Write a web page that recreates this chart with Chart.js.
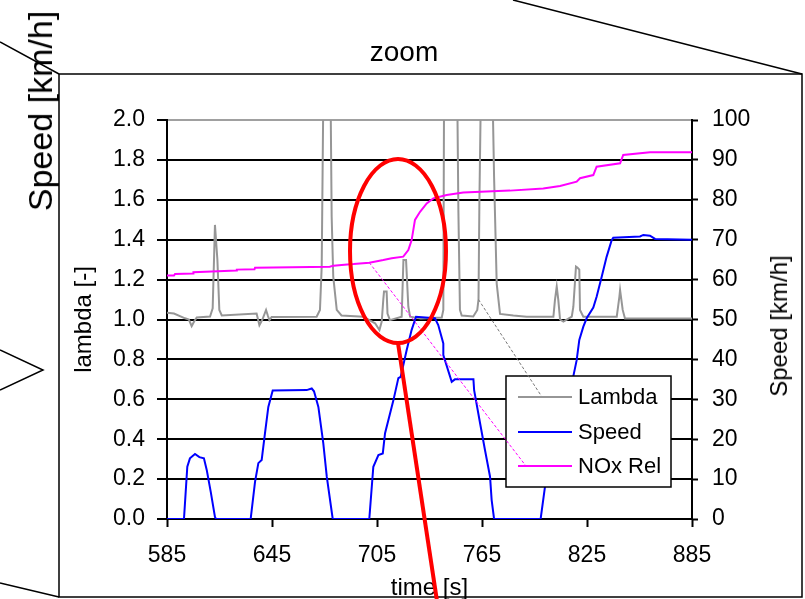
<!DOCTYPE html>
<html>
<head>
<meta charset="utf-8">
<script src="https://cdn.jsdelivr.net/npm/chart.js@4.4.1/dist/chart.umd.min.js"></script>
<style>
  body { margin: 0; background: #fff; }
  #wrap { position: relative; width: 805px; height: 599px; overflow: hidden; font-family: "Liberation Sans", Arial, sans-serif; }
  #wrap canvas { position: absolute; left: 0; top: 0; }
  .lbl { position: absolute; white-space: nowrap; color: #000; line-height: 1; }
</style>
</head>
<body>
<div id="wrap">
  <canvas id="chart" width="805" height="599"></canvas>
  <div class="lbl" style="left:404px; top:52px; font-size:28px; transform: translate(-50%,-50%);">zoom</div>
  <div class="lbl" style="left:40px; top:111px; font-size:34px; transform: translate(-50%,-50%) rotate(-90deg);">Speed [km/h]</div>
  <div class="lbl" style="left:779px; top:326px; font-size:24px; transform: translate(-50%,-50%) rotate(-90deg);">Speed [km/h]</div>
</div>
<script>
// time axis ticks [s]
const timeTicks = [585, 645, 705, 765, 825, 885]

// Lambda [-] (values above 2.0 run off the top of the plot)
const lambdaTime = [585, 589, 595.3, 597.5, 599.1, 600.5, 602, 609.6, 611.1, 612.4, 613.8, 614.9, 616.3,
  636.2, 637.8, 639.5, 641.6, 642.6, 643.5, 644.8, 670.5, 672.4, 673.4, 674.3, 678.5, 679.1, 680, 682, 684.7,
  697.2, 703.9, 706.4, 707.7, 708.6, 709, 710.5, 711, 712.4, 719.1, 720.1, 721.6, 722.9, 723.9, 730, 742, 742.9,
  743.3, 750.9, 751.5, 752.4, 753.4, 760, 762.3, 763, 763.5, 764.3, 771.1, 771.9, 773.4, 775.3, 782.9, 790.5,
  805.8, 806.7, 807.7, 808.6, 809.6, 811.5, 816.3, 817.2, 818.7, 819.5, 820.6, 821, 822.9, 842, 843.5, 843.9,
  845.4, 846.7, 885]
const lambdaVal = [1.034, 1.03, 1.006, 1.0, 0.967, 0.99, 1.01, 1.015, 1.056, 1.474, 1.298, 1.048, 1.02,
  1.03, 0.972, 1.0, 1.048, 1.02, 0.997, 1.012, 1.014, 1.048, 1.265, 2.1, 2.1, 1.515, 1.215, 1.048, 1.02,
  1.014, 0.981, 0.947, 0.99, 1.1, 1.14, 1.14, 1.03, 0.997, 1.014, 1.298, 1.298, 1.064, 1.014, 1.005, 1.01, 1.048,
  2.1, 2.1, 1.549, 1.048, 1.02, 1.015, 1.048, 1.1, 1.58, 2.1, 2.1, 1.716, 1.18, 1.028, 1.02, 1.014,
  1.014, 1.098, 1.165, 1.098, 1.0, 0.99, 1.014, 1.064, 1.265, 1.26, 1.25, 1.048, 1.014, 1.014, 1.114, 1.148,
  1.048, 1.005, 1.005]

// Speed [km/h]
const speedTime = [585, 594.7, 596.6, 598.1, 601, 603.5, 606.1, 607.7, 610, 612.4, 613, 632.8, 635.3, 637.2,
  639.1, 641, 642.9, 645.4, 664.8, 667.7, 669, 671.5, 674.3, 676.3, 679.7, 700.6, 702.9, 705.8, 708.3, 709.6,
  714.4, 717.2, 718.5, 722, 724.8, 727.3, 738.1, 740, 742.9, 742.9, 747.7, 749.5, 755.3, 760.1, 760.5, 763.9,
  766.7, 769.6, 770.5, 771.9, 798.5, 801, 806, 812, 817.2, 819.1, 820.6, 822.9, 824.8, 828.6, 830.5, 833.4,
  836.2, 839.1, 840, 855.3, 857.2, 861, 863.9, 885]
const speedVal = [0, 0, 13.1, 15.2, 16.3, 15.5, 15.2, 12.3, 6.8, 0.5, 0, 0, 9.3, 14,
  14.8, 21.5, 28.1, 32.2, 32.3, 32.7, 32, 28.1, 19, 10.6, 0, 0, 13.1, 16, 16.4, 21.5,
  29.8, 35.3, 35.6, 42.4, 47.4, 50.7, 50.3, 48.6, 44, 41.1, 34.4, 35, 35, 35, 32.3, 24,
  17.3, 10.6, 4.8, 0, 0, 8.1, 16, 26, 35.8, 39.8, 44.9, 48.2, 50.3, 53, 55.7, 60.7,
  65.7, 69.9, 70.5, 70.8, 71.2, 71, 70.2, 70]

// NOx Rel (plotted on the lambda axis)
const noxTime = [585, 589, 589.6, 600, 600.1, 624.8, 624.9, 635, 635.3, 678, 680.1, 689.6, 691.6, 700.6,
  708.6, 713.4, 720, 722.9, 724.8, 726.7, 729.6, 733.4, 737.2, 744.8, 754.3, 781, 800, 809.6, 819.1,
  821, 828.6, 830.5, 843.9, 845.7, 861, 885]
const noxVal = [1.22, 1.22, 1.228, 1.23, 1.237, 1.245, 1.25, 1.252, 1.26, 1.265, 1.27, 1.277, 1.278, 1.285,
  1.298, 1.307, 1.315, 1.348, 1.398, 1.499, 1.54, 1.582, 1.607, 1.624, 1.636, 1.646, 1.657, 1.669, 1.691,
  1.708, 1.724, 1.766, 1.783, 1.825, 1.838, 1.838]

const seriesNames = ['Lambda', 'Speed', 'NOx Rel']
const seriesColors = ['rgb(150,150,150)', 'rgb(0,0,255)', 'rgb(255,0,255)']

// annotation anchors (time, lambda)
const leaderLambda = [763, 1.1]
const leaderNox = [700.6, 1.285]
const highlight = [717, 1.343]

function pts(t, v) {
  return t.map((x, i) => ({ x: x, y: v[i] }))
}

Chart.defaults.font.family = '"Liberation Sans", Arial, sans-serif'
Chart.defaults.color = '#000'

// frame / perspective lines around the zoomed plot
const framePlugin = {
  id: 'frame',
  beforeDraw(chart) {
    const c = chart.ctx
    c.save()
    c.strokeStyle = '#000'
    c.lineWidth = 1.5
    c.strokeRect(59, 74, 743, 523)
    c.beginPath()
    c.moveTo(0, 42); c.lineTo(59, 74)
    c.moveTo(513, 0); c.lineTo(802, 74)
    c.moveTo(0, 583); c.lineTo(59, 597)
    c.moveTo(0, 350); c.lineTo(43, 370); c.lineTo(0, 390)
    c.stroke()
    c.restore()
  }
}

// legend box, leader lines and the red highlight
const overlayPlugin = {
  id: 'overlay',
  afterDatasetsDraw(chart) {
    const c = chart.ctx
    const ca = chart.chartArea
    const xs = chart.scales.x
    const ys = chart.scales.y
    const bx = ca.left + 339, by = ca.top + 256, bw = 165, bh = 111
    const rows = [by + 21, by + 56, by + 90]

    c.save()
    c.fillStyle = '#fff'
    c.fillRect(bx, by, bw, bh)
    c.strokeStyle = '#000'
    c.lineWidth = 1.5
    c.strokeRect(bx, by, bw, bh)

    // leaders
    c.lineWidth = 1
    c.setLineDash([3, 2])
    c.strokeStyle = '#777'
    c.beginPath()
    c.moveTo(xs.getPixelForValue(leaderLambda[0]), ys.getPixelForValue(leaderLambda[1]))
    c.lineTo(bx + 36, rows[0])
    c.stroke()
    c.strokeStyle = seriesColors[2]
    c.beginPath()
    c.moveTo(xs.getPixelForValue(leaderNox[0]), ys.getPixelForValue(leaderNox[1]))
    c.lineTo(bx + 20, rows[2])
    c.stroke()
    c.setLineDash([])

    c.font = '22px "Liberation Sans", Arial, sans-serif'
    c.textBaseline = 'middle'
    c.fillStyle = '#000'
    seriesNames.forEach((name, i) => {
      c.strokeStyle = seriesColors[i]
      c.lineWidth = 2
      c.beginPath()
      c.moveTo(bx + 12, rows[i])
      c.lineTo(bx + 66, rows[i])
      c.stroke()
      c.fillText(name, bx + 72, rows[i] + 1)
    })

    // red ellipse + pointer
    const cx = xs.getPixelForValue(highlight[0])
    const cy = ys.getPixelForValue(highlight[1])
    c.strokeStyle = 'rgb(255,0,0)'
    c.lineWidth = 4
    c.beginPath()
    c.ellipse(cx, cy, 48, 92, 0, 0, Math.PI * 2)
    c.stroke()
    c.beginPath()
    c.moveTo(cx, cy + 92)
    c.lineTo(cx + 39, chart.height + 2)
    c.stroke()
    c.restore()
  }
}

const config = {
  type: 'line',
  data: {
    datasets: [
      {
        label: seriesNames[0],
        data: pts(lambdaTime, lambdaVal),
        borderColor: seriesColors[0],
        yAxisID: 'y',
        order: 3
      },
      {
        label: seriesNames[1],
        data: pts(speedTime, speedVal),
        borderColor: seriesColors[1],
        yAxisID: 'y2',
        order: 2
      },
      {
        label: seriesNames[2],
        data: pts(noxTime, noxVal),
        borderColor: seriesColors[2],
        yAxisID: 'y',
        order: 1
      }
    ]
  },
  options: {
    responsive: false,
    animation: false,
    layout: { padding: { left: 66, top: 120, right: 0, bottom: 0 } },
    elements: {
      point: { radius: 0 },
      line: { borderWidth: 2, tension: 0 }
    },
    plugins: {
      legend: { display: false },
      tooltip: { enabled: false }
    },
    scales: {
      x: {
        type: 'linear',
        min: 585,
        max: 885,
        afterBuildTicks: (scale) => { scale.ticks = timeTicks.map(v => ({ value: v })) },
        afterFit: (scale) => { scale.height = 80 },
        ticks: { font: { size: 23 }, padding: 15, maxRotation: 0, autoSkip: false },
        grid: { drawOnChartArea: false, drawTicks: true, tickLength: 8, tickColor: '#000', tickWidth: 2 },
        border: { color: '#000', width: 2 },
        title: { display: true, text: 'time [s]', font: { size: 24, lineHeight: 0.9 }, padding: { top: 0, bottom: 0 } }
      },
      y: {
        position: 'left',
        min: 0,
        max: 2,
        afterFit: (scale) => { scale.width = 101 },
        ticks: { stepSize: 0.2, font: { size: 23 }, padding: 12, callback: v => v.toFixed(1) },
        grid: {
          color: ctx => (ctx.tick && Math.abs(ctx.tick.value - 2) < 1e-6) ? 'rgb(160,160,160)' : '#000',
          lineWidth: 2,
          tickLength: 10,
          tickColor: '#000',
          tickWidth: 2
        },
        border: { color: '#000', width: 2 },
        title: { display: true, text: 'lambda [-]', font: { size: 24 }, padding: { top: 4, bottom: 4 } }
      },
      y2: {
        position: 'right',
        min: 0,
        max: 100,
        afterFit: (scale) => { scale.width = 113 },
        ticks: { stepSize: 10, font: { size: 23 }, padding: 14 },
        grid: { drawOnChartArea: false, tickLength: 6, tickColor: '#000', tickWidth: 2 },
        border: { color: '#000', width: 2 }
      }
    }
  },
  plugins: [framePlugin, overlayPlugin]
}

const myChart = new Chart(document.getElementById('chart'), config)
</script>
</body>
</html>
